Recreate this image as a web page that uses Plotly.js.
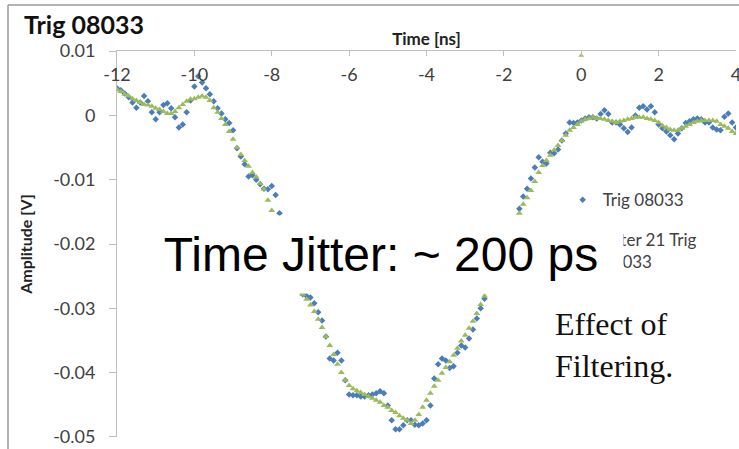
<!DOCTYPE html>
<html>
<head>
<meta charset="utf-8">
<script src="https://cdn.plot.ly/plotly-3.0.1.min.js"></script>
<style>
  html, body { margin: 0; padding: 0; background: #ffffff; }
  #chart { width: 739px; height: 449px; }
</style>
</head>
<body>
<div id="chart"></div>
<script>
// Sampling grid of the scope trace: -12 ns to 4 ns every 0.1 ns
const timeNs = Array.from({length: 161}, (_, i) => +(-12 + i * 0.1).toFixed(1));

// Raw trace "Trig 08033" in mV (null = hidden behind the text box)
const trigMilliVolts = [
  4.2, 3.9, 3.4, 2.8, 2.0, 1.2, 2.0, 3.0, 2.2, 0.5,
  -0.6, 0.5, 1.6, 1.9, 1.1, -0.3, -1.9, -1.4, 0.5, 2.3,
  4.5, 6.1, 5.1, 4.2, 3.3, 2.2, 1.1, 0.3, -0.6, -1.2,
  -2.3, -5.1, -6.4, -7.6, -9.5, -9.3, -10.0, -10.7, -11.4, -11.5,
  -11.0, -12.4, -15.2, null, null, null, null, null, -27.8, -28.1,
  -28.3, -29.2, -30.6, -31.9, -34.4, -37.8, -38.1, -36.9, -38.1, -41.2,
  -43.4, -43.5, -43.5, -43.7, -43.7, -43.5, -43.4, -43.2, -42.9, -43.2,
  -45.1, -47.4, -48.8, -48.8, -48.2, -47.4, -47.4, -48.1, -48.2, -47.9,
  -47.4, -45.1, -40.9, -38.7, -37.8, -38.1, -39.3, -39.0, -36.9, -35.8,
  -36.1, -34.7, -33.3, -31.6, -30.0, -28.5, null, null, null, null,
  null, null, null, null, -14.5, -12.6, -11.4, -9.8, -8.1, -6.5,
  -7.2, -7.5, -5.8, -5.9, -5.3, -3.9, -2.8, -1.1, -1.2, -1.1,
  -0.8, -0.5, -0.3, -0.3, -0.5, 0.2, 0.8, 0.2, -1.1, -1.1,
  -1.4, -2.0, -2.6, -1.9, 0.0, 1.2, 1.4, 0.9, 1.4, 0.5,
  -1.4, -2.0, -2.5, -3.1, -3.7, -2.8, -2.0, -1.2, -0.9, -0.6,
  -0.5, -0.6, -1.1, -1.1, -1.9, -2.2, -2.3, -0.2, 0.3, -1.1,
  -1.9
];

// Filtered trace "Filter 21 Trig 08033" in mV
const filterMilliVolts = [
  4.0, 3.7, 3.3, 3.0, 2.6, 2.3, 2.0, 1.7, 1.6, 1.4,
  1.1, 0.9, 0.6, 0.3, 0.3, 0.6, 1.2, 1.7, 2.2, 2.5,
  2.6, 2.8, 3.0, 2.8, 2.3, 1.2, 0.5, -0.5, -1.4, -2.5,
  -3.7, -5.0, -6.1, -7.0, -7.9, -8.9, -9.6, -10.6, -11.5, -13.2,
  -14.8, null, null, null, null, null, null, null, -27.8, -28.6,
  -29.5, -30.5, -31.7, -33.0, -34.4, -35.8, -37.2, -38.7, -40.0, -41.2,
  -42.0, -42.5, -42.8, -43.1, -43.4, -43.7, -44.0, -44.3, -44.6, -45.1,
  -45.4, -45.9, -46.2, -46.7, -47.1, -47.4, -47.9, -47.4, -46.5, -45.4,
  -44.3, -43.2, -42.1, -41.2, -40.1, -39.2, -38.3, -37.3, -36.2, -35.1,
  -34.2, -33.1, -32.0, -30.8, -29.4, -28.1, null, null, null, null,
  null, null, null, null, -15.2, -13.8, -12.8, -11.7, -10.3, -8.9,
  -7.8, -7.0, -6.2, -5.4, -4.7, -3.9, -3.1, -2.3, -1.9, -1.4,
  -0.9, -0.6, -0.5, -0.3, -0.5, -0.5, -0.6, -0.8, -0.9, -1.1,
  -0.9, -0.8, -0.6, -0.5, -0.3, -0.3, -0.3, -0.5, -0.6, -0.8,
  -1.1, -1.6, -1.9, -2.2, -2.3, -2.3, -2.0, -1.7, -1.4, -1.1,
  -0.9, -0.8, -0.8, -0.8, -0.8, -0.9, -1.4, -1.7, -2.0, -2.5,
  -2.8
];

// Stray filtered sample sitting on the top axis at t = 0
const filterStrayTime = [0];
const filterStrayMilliVolts = [9.3];

const xTickVals = [-12, -10, -8, -6, -4, -2, 0, 2, 4];
const xTickText = ['-12', '-10', '-8', '-6', '-4', '-2', '0', '2', '4'];
const yTickVals = [0.01, 0, -0.01, -0.02, -0.03, -0.04, -0.05];
const yTickText = ['0.01', '0', '-0.01', '-0.02', '-0.03', '-0.04', '-0.05'];

const toVolts = a => a.map(v => v === null ? null : v / 1000);

const BLUE = '#4a7ebb';
const GREEN = '#9bbb59';
const AXIS_GRAY = '#bfbfbf';
const TEXT = '#404040';
const SANS = 'Lato, "Open Sans", sans-serif';

const traces = [
  {
    x: timeNs, y: toVolts(trigMilliVolts),
    name: 'Trig 08033', type: 'scatter', mode: 'markers',
    marker: {symbol: 'diamond', size: 5, color: BLUE},
    legendgroup: 'a'
  },
  {
    x: timeNs, y: toVolts(filterMilliVolts),
    name: 'Filter 21 Trig<br>08033', type: 'scatter', mode: 'markers',
    marker: {symbol: 'triangle-up', size: 6, color: GREEN},
    legendgroup: 'b'
  },
  {
    x: filterStrayTime, y: toVolts(filterStrayMilliVolts),
    name: 'stray', type: 'scatter', mode: 'markers', showlegend: false,
    marker: {symbol: 'triangle-up', size: 5, color: GREEN},
    cliponaxis: false
  }
];

const layout = {
  width: 739, height: 449,
  margin: {l: 117, r: 3, t: 51, b: 12, pad: 0},
  paper_bgcolor: '#ffffff', plot_bgcolor: '#ffffff',
  font: {family: SANS, color: TEXT},
  title: {
    text: 'Trig 08033',
    x: 24 / 739, xanchor: 'left', xref: 'container',
    y: 1 - 25 / 449, yanchor: 'middle', yref: 'container',
    font: {family: SANS, size: 25, weight: 700, color: '#111111'}
  },
  showlegend: true,
  legend: {
    x: 0.72, y: 0.66, xanchor: 'left', yanchor: 'top',
    bgcolor: 'rgba(0,0,0,0)', borderwidth: 0,
    font: {family: SANS, size: 17, color: TEXT},
    tracegroupgap: 14
  },
  xaxis: {
    range: [-12.0001, 4.0001], side: 'top',
    tickvals: xTickVals, ticktext: xTickText,
    ticks: 'inside', ticklen: 5, tickcolor: AXIS_GRAY,
    ticklabelposition: 'inside', ticklabelstandoff: 13,
    ticklabeloverflow: 'allow',
    showline: true, linecolor: AXIS_GRAY, linewidth: 1,
    showgrid: false, zeroline: false,
    tickfont: {family: SANS, size: 18, color: TEXT},
    title: {text: 'Time [ns]', standoff: 13,
            font: {family: SANS, size: 17, weight: 700, color: '#222222'}}
  },
  yaxis: {
    range: [-0.05001, 0.01001],
    tickvals: yTickVals, ticktext: yTickText,
    ticks: 'outside', ticklen: 7, tickcolor: AXIS_GRAY,
    ticklabelstandoff: 10, ticklabeloverflow: 'allow',
    showline: true, linecolor: AXIS_GRAY, linewidth: 1,
    showgrid: false, zeroline: false,
    tickfont: {family: SANS, size: 18, color: TEXT},
    title: {text: 'Amplitude [V]', standoff: 16,
            font: {family: SANS, size: 16, weight: 700, color: '#222222'}}
  },
  shapes: [
    {type: 'line', xref: 'paper', yref: 'paper',
     x0: -0.1761, x1: -0.1761, y0: -0.2, y1: 1.1192,
     line: {color: '#9a9a9a', width: 1.5}, layer: 'above'},
    {type: 'line', xref: 'paper', yref: 'paper',
     x0: -0.1761, x1: 1.2, y0: 1.1192, y1: 1.1192,
     line: {color: '#9a9a9a', width: 1.5}, layer: 'above'}
  ],
  annotations: [
    {text: 'Time Jitter: ~ 200 ps', xref: 'paper', yref: 'paper',
     x: 0.4265, y: 0.4728, xanchor: 'center', yanchor: 'middle',
     showarrow: false, bgcolor: '#ffffff', borderpad: 0,
     width: 484, height: 77,
     font: {family: '"Liberation Sans", Arial, sans-serif', size: 48, color: '#000000'}},
    {text: 'Effect of<br>Filtering.', xref: 'paper', yref: 'paper',
     x: 0.7044, y: 0.2383, xanchor: 'left', yanchor: 'middle', align: 'left',
     showarrow: false,
     font: {family: '"Liberation Serif", "Times New Roman", serif', size: 32, color: '#111111'}}
  ]
};

Plotly.newPlot('chart', traces, layout, {displayModeBar: false, staticPlot: true});
</script>
</body>
</html>
